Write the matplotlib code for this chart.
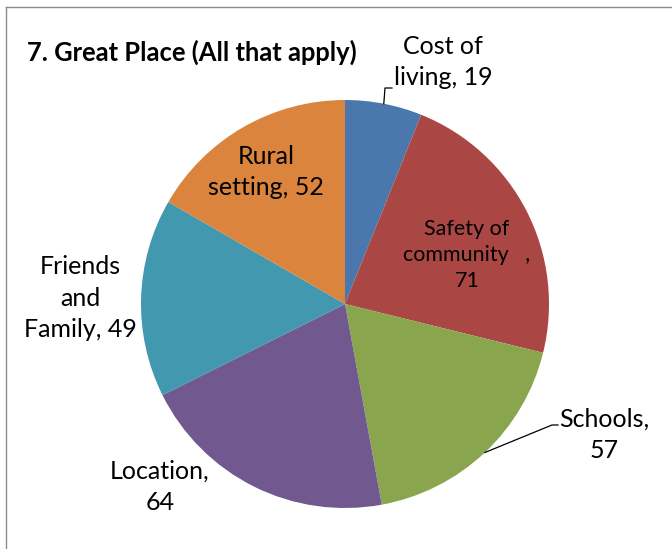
import numpy as np
import matplotlib
matplotlib.use("Agg")
import matplotlib.pyplot as plt
from matplotlib.lines import Line2D

# data
categories = ["Cost of living", "Safety of community", "Schools", "Location",
              "Friends and Family", "Rural setting"]
values = [19, 71, 57, 64, 49, 52]
label_texts = ["Cost of\nliving, 19", "Safety of\ncommunity   ,\n71", "Schools,\n57",
               "Location,\n64", "Friends\nand\nFamily, 49", "Rural\nsetting, 52"]
colors = ["#4a78ac", "#aa4744", "#89a54e", "#71588f", "#4298af", "#db843d"]

plt.rcParams['font.family'] = ['Lato', 'DejaVu Sans']

W, H = 672, 549
fig = plt.figure(figsize=(W / 100, H / 100), dpi=100)

# pie geometry in pixels
cx, cy, r = 345, 304, 204
ax = fig.add_axes([(cx - r) / W, (H - cy - r) / H, 2 * r / W, 2 * r / H])
wedges, _ = ax.pie(values, colors=colors, startangle=90, counterclock=False,
                   radius=1, wedgeprops=dict(linewidth=0))
ax.set_xlim(-1, 1)
ax.set_ylim(-1, 1)
ax.set_aspect('equal')
ax.axis('off')


def px(x, y):
    # pixel position -> pie data coords
    return (x - cx) / r, (cy - y) / r


# label centres (pixels) and font sizes
label_pos = [(443, 62), (467, 255), (604, 435), (160, 487), (80, 298), (266, 172)]
sizes = [18, 15.5, 18, 18, 18, 18]
spacing = [1.45, 1.4, 1.45, 1.45, 1.45, 1.45]
for txt, (lx, ly), fs, ls in zip(label_texts, label_pos, sizes, spacing):
    x, y = px(lx, ly)
    ax.text(x, y, txt, ha='center', va='center', fontsize=fs,
            linespacing=ls, color='black')

# leader lines for outside labels
leaders = {0: [(385, 88), (392, 88)], 2: [(552, 425), (558, 425)]}
for i, pts in leaders.items():
    w = wedges[i]
    mid = np.deg2rad((w.theta1 + w.theta2) / 2)
    xs = [np.cos(mid)] + [px(*p)[0] for p in pts]
    ys = [np.sin(mid)] + [px(*p)[1] for p in pts]
    ax.plot(xs, ys, color='black', linewidth=0.9, clip_on=False)

fig.text(27 / W, 1 - 52 / H, "7. Great Place (All that apply)", fontsize=18.4,
         fontweight='bold', ha='left', va='center')

# chart area border (top and left visible)
fig.add_artist(Line2D([6 / W, 1], [1 - 7 / H, 1 - 7 / H], color='#8c8c8c', linewidth=1))
fig.add_artist(Line2D([6 / W, 6 / W], [0, 1 - 7 / H], color='#8c8c8c', linewidth=1))

fig.savefig("out.png", dpi=100)
